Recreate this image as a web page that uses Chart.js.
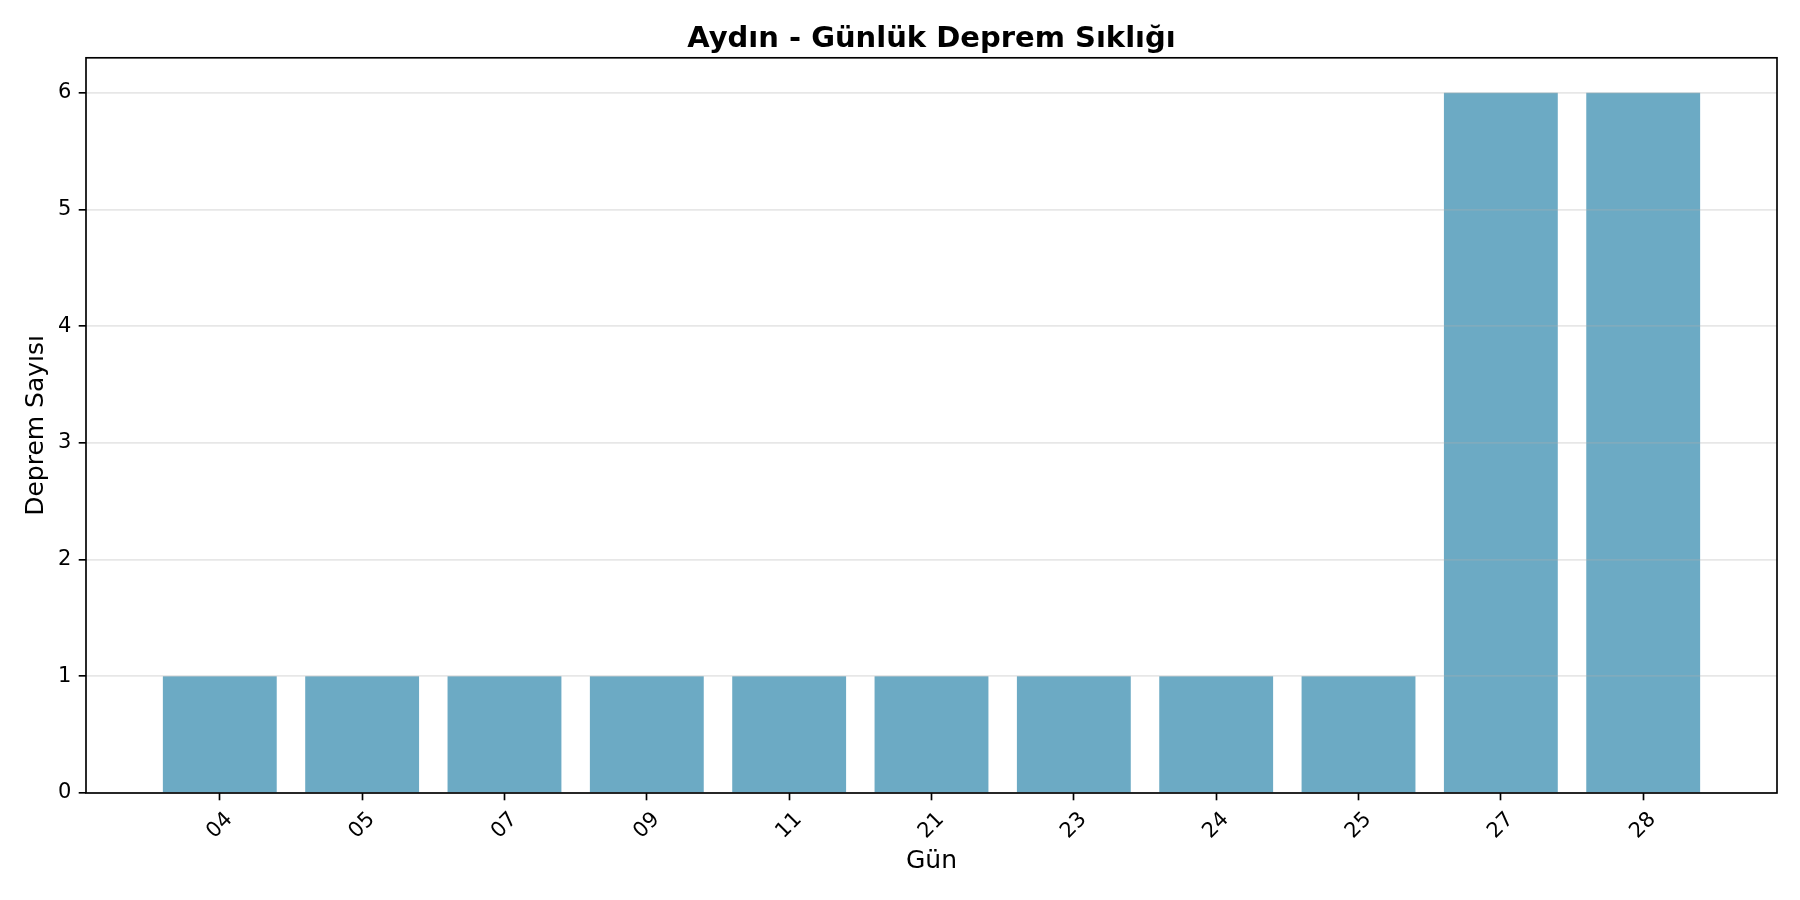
<!DOCTYPE html>
<html>
<head>
<meta charset="utf-8">
<script src="https://cdn.jsdelivr.net/npm/chart.js@4/dist/chart.umd.min.js"></script>
<style>
  html, body { margin: 0; padding: 0; background: #fff; }
  #wrap { width: 1800px; height: 900px; }
</style>
</head>
<body>
<div id="wrap"><canvas id="c" width="1800" height="900"></canvas></div>
<script>
// ---- data ----
const days = ['04', '05', '07', '09', '11', '21', '23', '24', '25', '27', '28'];
const counts = [1, 1, 1, 1, 1, 1, 1, 1, 1, 6, 6];
const yTicks = [0, 1, 2, 3, 4, 5, 6];
const titleText = 'Aydın - Günlük Deprem Sıklığı';
const xTitle = 'Gün';
const yTitle = 'Deprem Sayısı';

const FONT = '"DejaVu Sans", "Liberation Sans", sans-serif';

const framePlugin = {
  id: 'frame',
  afterDraw(chart) {
    const {ctx, chartArea: a} = chart;
    const xs = chart.scales.x;
    ctx.save();
    // x tick labels, rotated 45 deg, centred under tick
    const fs = 21;
    ctx.font = fs + 'px ' + FONT;
    ctx.fillStyle = '#000';
    days.forEach((lab, i) => {
      const px = xs.getPixelForValue(i);
      const w = ctx.measureText(lab).width;
      const h = fs * 1.164;
      const H = (w + h) * Math.SQRT1_2;
      ctx.save();
      ctx.translate(px, a.bottom + 7.3 + 7.3 + H / 2);
      ctx.rotate(-Math.PI / 4);
      ctx.textAlign = 'center';
      ctx.textBaseline = 'middle';
      ctx.fillText(lab, 0, 0);
      ctx.restore();
    });
    // axes frame
    ctx.strokeStyle = '#000';
    ctx.lineWidth = 1.67;
    ctx.strokeRect(a.left, a.top, a.right - a.left, a.bottom - a.top);
    ctx.restore();
  }
};

new Chart(document.getElementById('c'), {
  type: 'bar',
  data: {
    datasets: [{
      data: counts.map((v, i) => ({x: i, y: v})),
      backgroundColor: 'rgba(46,134,171,0.7)',
      borderWidth: 0,
      barPercentage: 0.8,
      categoryPercentage: 1.0
    }]
  },
  plugins: [framePlugin],
  options: {
    responsive: false,
    devicePixelRatio: 1,
    animation: false,
    layout: { padding: { left: 0, right: 23, top: 0, bottom: 0 } },
    plugins: {
      legend: { display: false },
      tooltip: { enabled: false },
      title: {
        display: true,
        text: titleText,
        fullSize: false,
        color: '#000',
        font: { family: FONT, size: 29, weight: 'bold', lineHeight: 1.2 },
        padding: { top: 22, bottom: 1 }
      }
    },
    scales: {
      x: {
        type: 'linear',
        min: -0.94,
        max: 10.94,
        offset: false,
        afterBuildTicks(scale) { scale.ticks = days.map((_, i) => ({value: i})); },
        afterFit(scale) { scale.height = 107; },
        ticks: { display: false },
        grid: {
          offset: false,
          drawOnChartArea: false,
          drawTicks: true,
          tickLength: 7.3,
          tickWidth: 1.67,
          tickColor: '#000'
        },
        border: { display: false },
        title: {
          display: true,
          text: xTitle,
          color: '#000',
          font: { family: FONT, size: 25, lineHeight: 1.2 },
          padding: { top: 0, bottom: 24 }
        }
      },
      y: {
        min: 0,
        max: 6.3,
        afterBuildTicks(scale) { scale.ticks = yTicks.map(v => ({value: v})); },
        afterFit(scale) { scale.width = 86; },
        ticks: {
          color: '#000',
          padding: 7.3,
          font: { family: FONT, size: 21 }
        },
        grid: {
          z: 1,
          offset: false,
          color: 'rgba(176,176,176,0.3)',
          lineWidth: 1.67,
          drawTicks: true,
          tickLength: 7.3,
          tickWidth: 1.67,
          tickColor: '#000'
        },
        border: { display: false },
        title: {
          display: true,
          text: yTitle,
          color: '#000',
          font: { family: FONT, size: 25, lineHeight: 1.2 },
          padding: { top: 21, bottom: 0 }
        }
      }
    }
  }
});
</script>
</body>
</html>
